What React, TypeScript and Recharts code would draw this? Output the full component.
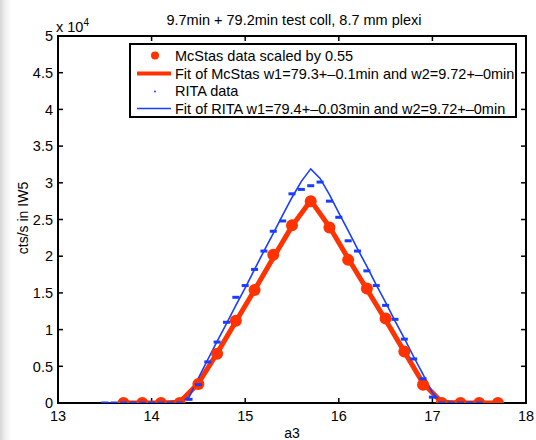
import React from "react";
import { ComposedChart, Line, Scatter, XAxis, YAxis, Legend } from "recharts";

// McStas simulation, scaled by 0.55 (counts/s)
const mcX = [13.7, 13.9, 14.1, 14.3, 14.5, 14.7, 14.9, 15.1, 15.3, 15.5, 15.7, 15.9, 16.1, 16.3, 16.5, 16.7, 16.9, 17.1, 17.3, 17.5, 17.7];
const mcCounts = [0, 0, 0, 0, 2600, 6700, 11200, 15400, 20200, 24200, 27500, 23900, 19500, 15600, 11500, 7000, 2500, 0, 0, 0, 0];
const mcFit = [0, 0, 0, 100, 2700, 6800, 11100, 15400, 19800, 24100, 27600, 24000, 19700, 15500, 11300, 7000, 2700, 100, 0, 0, 0];

// RITA measurement
const ritaX = [
  13.5, 13.6, 13.7, 13.8, 13.9, 14.0, 14.1, 14.2, 14.3, 14.4, 14.5, 14.6, 14.7, 14.8,
  14.9, 15.0, 15.1, 15.2, 15.3, 15.4, 15.5, 15.6, 15.7, 15.8, 15.9, 16.0, 16.1, 16.2,
  16.3, 16.4, 16.5, 16.6, 16.7, 16.8, 16.9, 17.0, 17.1, 17.2, 17.3, 17.4, 17.5,
];
const ritaCounts = [
  0, 0, 0, 0, 0, 0, 0, 0, 0, 500, 2500, 5600, 8300, 11000,
  14400, 16000, 18200, 20700, 23400, 24800, 28500, 29100, 29600, 30100, 27500, 25300, 22100, 20700,
  18000, 16000, 13300, 11400, 8700, 6000, 3300, 800, 0, 0, 0, 0, 0,
];
const ritaFit = [
  0, 0, 0, 0, 0, 0, 0, 0, 0, 800, 3400, 5900, 8400, 10800,
  13300, 15700, 18200, 20700, 23100, 25600, 28000, 30200, 31900, 30600, 28400, 25900, 23500, 21000,
  18600, 16100, 13700, 11200, 8800, 6300, 3900, 1400, 100, 0, 0, 0, 0,
];

const xTicks = [13, 14, 15, 16, 17, 18];
const yTicks = [0, 5000, 10000, 15000, 20000, 25000, 30000, 35000, 40000, 45000, 50000];
const xDomain = [13, 18];
const yDomain = [0, 50000];

const legendLabels = [
  "McStas data scaled by 0.55",
  "Fit of McStas w1=79.3+–0.1min and w2=9.72+–0min",
  "RITA data",
  "Fit of RITA w1=79.4+–0.03min and w2=9.72+–0min",
];

const RED = "#ff3300";
const BLUE = "#1a3dff";
const FONT = "'Liberation Sans', Arial, sans-serif";
const FS = 14.5;

const W = 536;
const H = 440;
const margin = { top: 36, right: 10, bottom: 0, left: 0 };
const Y_AXIS_W = 58;
const X_AXIS_H = 37;
// plot box, same as what recharts gets from the margins + axis sizes
const plot = {
  left: margin.left + Y_AXIS_W,
  top: margin.top,
  width: W - margin.left - Y_AXIS_W - margin.right,
  height: H - margin.top - margin.bottom - X_AXIS_H,
};

const toPoints = (xs: number[], ys: number[]) => xs.map((x, i) => ({ x, y: ys[i] }));
const mcPoints = toPoints(mcX, mcCounts);
const mcFitPoints = toPoints(mcX, mcFit);
const ritaPoints = toPoints(ritaX, ritaCounts);
const ritaFitPoints = toPoints(ritaX, ritaFit);

const BottomLabel = (props: any) => {
  const { x, y, payload } = props;
  return (
    <text x={x} y={y + 18} textAnchor="middle" fontSize={FS} fontFamily={FONT} fill="#000">
      {payload.value}
    </text>
  );
};

const LeftLabel = (props: any) => {
  const { x, y, payload } = props;
  return (
    <text x={x - 5} y={y} dy="0.36em" textAnchor="end" fontSize={FS} fontFamily={FONT} fill="#000">
      {payload.value / 10000}
    </text>
  );
};

const RedDot = (props: any) => <circle cx={props.cx} cy={props.cy} r={6} fill={RED} />;
const BlueDash = (props: any) => (
  <rect x={props.cx - 3.5} y={props.cy - 1.5} width={7} height={3} fill={BLUE} />
);

// matlab-style box with inward ticks on all four sides (drawn below the data)
const AxesBox = () => {
  const sx = (v: number) => plot.left + ((v - xDomain[0]) / (xDomain[1] - xDomain[0])) * plot.width;
  const sy = (v: number) => plot.top + plot.height - ((v - yDomain[0]) / (yDomain[1] - yDomain[0])) * plot.height;
  const r = plot.left + plot.width;
  const b = plot.top + plot.height;
  return (
    <svg width={W} height={H} style={{ position: "absolute", left: 0, top: 0, pointerEvents: "none" }}>
      <rect x={plot.left} y={plot.top} width={plot.width} height={plot.height} fill="none" stroke="#000" strokeWidth={2} />
      {xTicks.slice(1, -1).map((t) => (
        <g key={`x${t}`} stroke="#000" strokeWidth={1.5}>
          <line x1={sx(t)} y1={b} x2={sx(t)} y2={b - 5} />
          <line x1={sx(t)} y1={plot.top} x2={sx(t)} y2={plot.top + 5} />
        </g>
      ))}
      {yTicks.slice(1, -1).map((t) => (
        <g key={`y${t}`} stroke="#000" strokeWidth={1.5}>
          <line x1={plot.left} y1={sy(t)} x2={plot.left + 5} y2={sy(t)} />
          <line x1={r} y1={sy(t)} x2={r - 5} y2={sy(t)} />
        </g>
      ))}
    </svg>
  );
};

const LegendBox = () => (
  <div
    style={{
      width: 388,
      height: 75,
      boxSizing: "border-box",
      border: "2px solid #000",
      background: "#fff",
      paddingTop: 2,
      fontFamily: FONT,
      fontSize: FS,
      color: "#000",
    }}
  >
    {legendLabels.map((label, i) => (
      <div key={label} style={{ display: "flex", alignItems: "center", height: 17.7, whiteSpace: "nowrap" }}>
        <svg width={44} height={17} style={{ flex: "none" }}>
          {i === 0 && <circle cx={24} cy={8.5} r={4} fill={RED} />}
          {i === 1 && <line x1={6} y1={8.5} x2={40} y2={8.5} stroke={RED} strokeWidth={4} />}
          {i === 2 && <circle cx={24} cy={8.5} r={1} fill={BLUE} />}
          {i === 3 && <line x1={6} y1={8.5} x2={40} y2={8.5} stroke={BLUE} strokeWidth={1.5} />}
        </svg>
        <span>{label}</span>
      </div>
    ))}
  </div>
);

const App = () => {
  return (
    <div
      style={{
        position: "absolute",
        left: 0,
        top: 0,
        width: W,
        height: H,
        background: "linear-gradient(to right, #d6d6d6 0px, #efefef 5px, #ffffff 12px)",
        fontFamily: FONT,
        overflow: "hidden",
      }}
    >
      <div style={{ position: "absolute", left: 60, width: 468, top: 12, textAlign: "center", fontSize: FS }}>
        9.7min + 79.2min test coll, 8.7 mm plexi
      </div>
      <div style={{ position: "absolute", left: 56, top: 19, fontSize: FS, lineHeight: "17px" }}>
        x 10<sup style={{ fontSize: 10, verticalAlign: 6, lineHeight: 0 }}>4</sup>
      </div>
      <div
        style={{
          position: "absolute",
          left: 23,
          top: 218,
          transform: "translate(-50%, -50%) rotate(-90deg)",
          fontSize: 14,
          whiteSpace: "nowrap",
        }}
      >
        cts/s in IW5
      </div>
      <div style={{ position: "absolute", left: 292, top: 426, fontSize: 14, lineHeight: "14px", transform: "translateX(-50%)" }}>
        a3
      </div>

      <AxesBox />
      <ComposedChart width={W} height={H} margin={margin}>
        <XAxis
          dataKey="x"
          type="number"
          domain={xDomain}
          ticks={xTicks}
          height={X_AXIS_H}
          tickSize={0}
          tickMargin={0}
          tickLine={false}
          tick={<BottomLabel />}
          axisLine={false}
          allowDataOverflow
        />
        <YAxis
          dataKey="y"
          type="number"
          domain={yDomain}
          ticks={yTicks}
          width={Y_AXIS_W}
          tickSize={0}
          tickMargin={0}
          tickLine={false}
          tick={<LeftLabel />}
          axisLine={false}
          allowDataOverflow
        />
        <Legend
          layout="vertical"
          align="center"
          verticalAlign="middle"
          wrapperStyle={{ left: 129, top: 43, width: 388, height: 75, zIndex: 2 }}
          content={() => <LegendBox />}
        />
        <Scatter data={mcPoints} dataKey="y" name="McStas data" shape={RedDot} isAnimationActive={false} />
        <Line
          data={mcFitPoints}
          dataKey="y"
          name="Fit of McStas"
          type="linear"
          stroke={RED}
          strokeWidth={5}
          dot={false}
          isAnimationActive={false}
        />
        <Scatter data={ritaPoints} dataKey="y" name="RITA data" shape={BlueDash} isAnimationActive={false} />
        <Line
          data={ritaFitPoints}
          dataKey="y"
          name="Fit of RITA"
          type="linear"
          stroke={BLUE}
          strokeWidth={1.6}
          dot={false}
          isAnimationActive={false}
        />
      </ComposedChart>
    </div>
  );
};

export default App;
